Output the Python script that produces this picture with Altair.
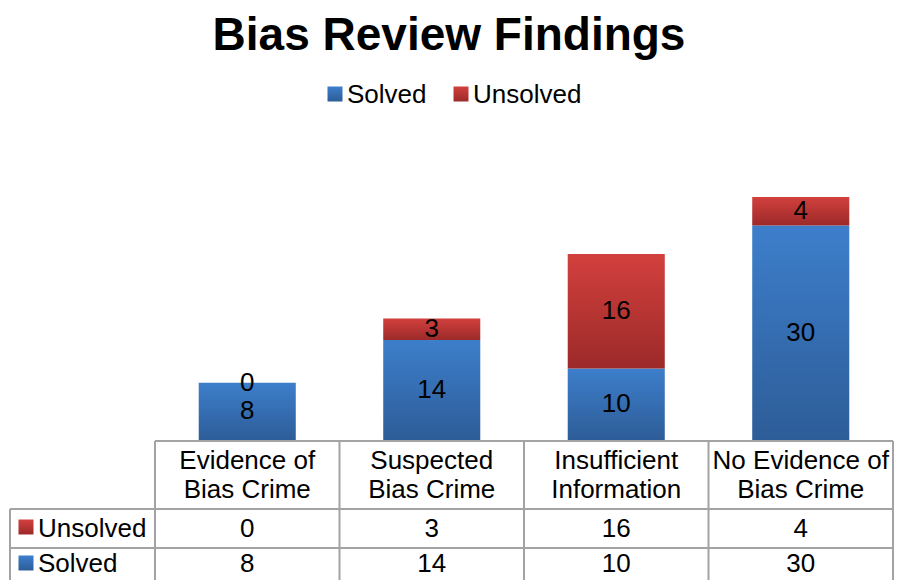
import altair as alt
import pandas as pd

# ---- data ----
categories = ["Evidence of\nBias Crime", "Suspected\nBias Crime",
              "Insufficient\nInformation", "No Evidence of\nBias Crime"]
solved = [8, 14, 10, 30]
unsolved = [0, 3, 16, 4]
series = ["Solved", "Unsolved"]
title_text = "Bias Review Findings"

df = pd.DataFrame({"category": categories, "solved": solved, "unsolved": unsolved})
one = pd.DataFrame({"a": [0]})

FONT = "Liberation Sans"
GRID = "#a3a3a3"
W, H = 738, 286

def grad(top, bottom):
    return alt.Gradient(
        gradient="linear",
        stops=[alt.GradientStop(color=top, offset=0), alt.GradientStop(color=bottom, offset=1)],
        x1=0, x2=0, y1=0, y2=1,
    )

BLUE = grad("#3d7ecb", "#2d5d98")
RED = grad("#d2403d", "#9c2a29")

xenc = alt.X("category:N", sort=categories, axis=None,
             scale=alt.Scale(paddingInner=0.474, paddingOuter=0.237))
yscale = alt.Scale(domain=[0, 40], nice=False, zero=True)

base = alt.Chart(df).transform_calculate(
    total="datum.solved + datum.unsolved",
    solved_mid="datum.solved / 2",
    unsolved_mid="datum.solved + datum.unsolved / 2",
)

bars_solved = base.mark_bar(color=BLUE).encode(
    x=xenc, y=alt.Y("solved:Q", scale=yscale, axis=None))
bars_unsolved = base.mark_bar(color=RED).encode(
    x=xenc, y=alt.Y("solved:Q", scale=yscale, axis=None), y2="total:Q")

lbl_kw = dict(font=FONT, fontSize=26, color="black", baseline="middle", align="center")
lbl_solved = base.mark_text(**lbl_kw).encode(
    x=xenc, y=alt.Y("solved_mid:Q", scale=yscale, axis=None), text="solved:Q")
lbl_unsolved = base.mark_text(**lbl_kw).encode(
    x=xenc, y=alt.Y("unsolved_mid:Q", scale=yscale, axis=None), text="unsolved:Q")

# ---- data table below the plot ----
header = base.mark_text(font=FONT, fontSize=26, color="black", align="center",
                        baseline="alphabetic", lineBreak="\n", lineHeight=29).encode(
    x=xenc, y=alt.value(315), text="category:N")
row_unsolved = base.mark_text(font=FONT, fontSize=26, color="black", align="center",
                              baseline="alphabetic").encode(
    x=xenc, y=alt.value(383), text="unsolved:Q")
row_solved = base.mark_text(font=FONT, fontSize=26, color="black", align="center",
                            baseline="alphabetic").encode(
    x=xenc, y=alt.value(418), text="solved:Q")

def rule(x1, x2, y1, y2):
    return alt.Chart(one).mark_rule(color=GRID, strokeWidth=2).encode(
        x=alt.value(x1), x2=alt.value(x2), y=alt.value(y1), y2=alt.value(y2))

step = W / 4
rules = [
    rule(0, W, 287, 287),
    rule(-145, W, 355, 355),
    rule(-145, W, 394, 394),
    rule(-145, -145, 355, 440),
]
for k in range(5):
    rules.append(rule(k * step, k * step, 287, 440))

def square(x, y, fill):
    return alt.Chart(one).mark_square(color=fill, size=225, opacity=1).encode(
        x=alt.value(x), y=alt.value(y))

def label(x, y, txt, size=26, weight="normal", align="left"):
    return alt.Chart(one).mark_text(font=FONT, fontSize=size, fontWeight=weight,
                                    align=align, baseline="alphabetic", color="black").encode(
        x=alt.value(x), y=alt.value(y), text=alt.value(txt))

deco = [
    # table row keys
    square(-129, 373, RED), label(-117, 383, series[1]),
    square(-129, 409, BLUE), label(-117, 418, series[0]),
    # top legend
    square(180, -60, BLUE), label(192, -51, series[0]),
    square(306, -60, RED), label(318, -51, series[1]),
    # title
    label(294, -104.5, title_text, size=46, weight="bold", align="center"),
]

chart = alt.layer(
    *rules, bars_solved, bars_unsolved, lbl_solved, lbl_unsolved,
    header, row_unsolved, row_solved, *deco
).properties(
    width=W, height=H,
    autosize=alt.AutoSizeParams(type="none"),
    padding={"left": 147, "top": 146, "right": 2, "bottom": 140},
).configure_view(stroke=None)

chart.save("out.html", embed_options={"renderer": "svg", "actions": False})
